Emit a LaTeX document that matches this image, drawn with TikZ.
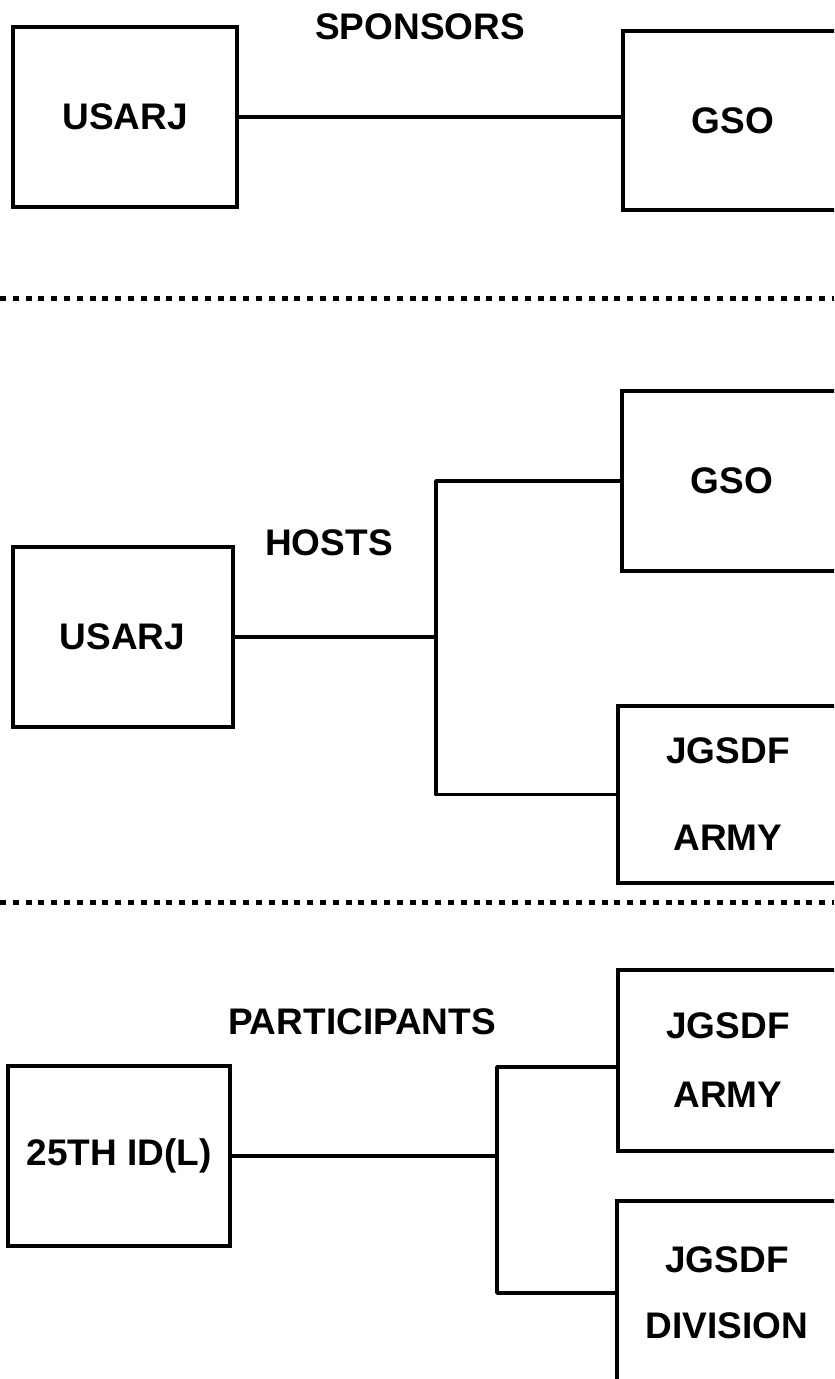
\documentclass[tikz,border=0pt]{standalone}
\usepackage{fontspec}
\setmainfont{Liberation Sans}
\usepackage{tikz}
\usetikzlibrary{calc}

\begin{document}
\begin{tikzpicture}[x=0.5pt,y=-0.5pt,
    unitbox/.style={draw, line width=2pt, minimum width=110pt, minimum height=90pt,
      align=center, font=\fontsize{18.5}{22}\selectfont\bfseries},
    headline/.style={font=\fontsize{18.5}{22}\selectfont\bfseries},
    link/.style={line width=1.8pt, line join=round},
    sepline/.style={line width=2.5pt, dash pattern=on 3pt off 3.4pt}]
  \useasboundingbox (0,0) rectangle (834,1379);
  \clip (0,0) rectangle (834,1379);

  % sponsors
  \node[headline] (sponsors) at (420,27) {SPONSORS};
  \node[unitbox, minimum width=112pt] (usarjA) at (125,117) {USARJ};
  \node[unitbox, minimum height=89.5pt] (gsoA) at (733,120.5) {GSO};
  \draw[link] (usarjA.east) -- (usarjA.east -| gsoA.west);

  \draw[sepline] (0,299) -- (834,299);

  % hosts
  \node[headline] (hosts) at (329,543) {HOSTS};
  \node[unitbox] (usarjB) at (122.5,637) {USARJ};
  \node[unitbox] (gsoB) at (732,481) {GSO};
  \node[unitbox, minimum height=88.5pt] (armyB) at (728,794.5) {JGSDF\\[21.5pt]ARMY};
  \coordinate (jnB) at (436,637);
  \draw[link] (usarjB.east) -- (jnB);
  \draw[link] (gsoB.west) -| (jnB) |- (armyB.west);

  \draw[sepline] (0,902) -- (834,902);

  % participants
  \node[headline] (participants) at (362,1022) {PARTICIPANTS};
  \node[unitbox, minimum width=111pt] (idC) at (119,1156) {25TH ID(L)};
  \node[unitbox, minimum height=90.5pt] (armyC) at (728,1060) {JGSDF\\[12.5pt]ARMY};
  \node[unitbox, minimum height=92pt] (divC) at (727,1293) {JGSDF\\[11pt]DIVISION};
  \coordinate (jnC) at (497,1156);
  \coordinate (topC) at (497,1067);
  \draw[link] (idC.east) -- (jnC);
  \draw[link] (topC -| armyC.west) -- (topC) -- (jnC) |- (divC.west);
\end{tikzpicture}
\end{document}
